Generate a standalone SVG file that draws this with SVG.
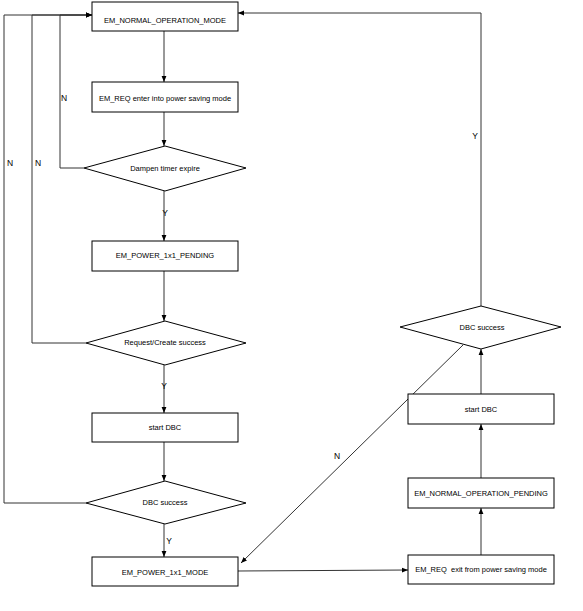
<svg xmlns="http://www.w3.org/2000/svg" width="583" height="611" viewBox="0 0 583 611">
<style>
.box{fill:#fff;stroke:#000;stroke-width:1}
.t{font-family:"Liberation Sans",Arial,sans-serif;font-size:7.5px;fill:#000;text-anchor:middle}
.lbl{font-family:"Liberation Sans",Arial,sans-serif;font-size:8.5px;fill:#000;text-anchor:middle}
.c{fill:none;stroke:#333;stroke-width:1}
</style>
<defs>
<marker id="ah" viewBox="0 0 10 10" refX="10" refY="5" markerWidth="6" markerHeight="6" markerUnits="userSpaceOnUse" orient="auto">
<path d="M0,1 L10,5 L0,9 z" fill="#000"/>
</marker>
</defs>
<rect width="583" height="611" fill="#fff"/>
<g id="connectors">
<path class="c" d="M164,31 V82" marker-end="url(#ah)"/>
<path class="c" d="M164,112 V146" marker-end="url(#ah)"/>
<path class="c" d="M164,191 V241" marker-end="url(#ah)"/>
<path class="c" d="M84,168 H60 V15 H92" marker-end="url(#ah)"/>
<path class="c" d="M164,271 V321" marker-end="url(#ah)"/>
<path class="c" d="M86,343 H32 V15 H92" marker-end="url(#ah)"/>
<path class="c" d="M164,365 V413" marker-end="url(#ah)"/>
<path class="c" d="M164,442 V481" marker-end="url(#ah)"/>
<path class="c" d="M86,503 H4 V15 H92" marker-end="url(#ah)"/>
<path class="c" d="M164,524 V557" marker-end="url(#ah)"/>
<path class="c" d="M238,571 L408,570" marker-end="url(#ah)"/>
<path class="c" d="M481,555 V508" marker-end="url(#ah)"/>
<path class="c" d="M481,478 V424" marker-end="url(#ah)"/>
<path class="c" d="M481,394 V349" marker-end="url(#ah)"/>
<path class="c" d="M481,306 V13 H238" marker-end="url(#ah)"/>
<path class="c" d="M463,345 L241,563" marker-end="url(#ah)"/>
<text class="lbl" x="64" y="101">N</text>
<text class="lbl" x="38" y="166">N</text>
<text class="lbl" x="10" y="166">N</text>
<text class="lbl" x="165" y="216">Y</text>
<text class="lbl" x="164" y="389">Y</text>
<text class="lbl" x="169" y="544">Y</text>
<text class="lbl" x="475" y="139">Y</text>
<text class="lbl" x="337" y="459">N</text>
</g>
<g id="n1"><rect class="box" x="92" y="2" width="146" height="29"/><text class="t" x="165" y="22.5">EM_NORMAL_OPERATION_MODE</text></g>
<g id="n2"><rect class="box" x="92" y="82" width="146" height="30"/><text class="t" x="165" y="100.5">EM_REQ enter into power saving mode</text></g>
<g id="d1"><polygon class="box" points="165,146 246,168 165,191 84,168"/><text class="t" x="165" y="170.7">Dampen timer expire</text></g>
<g id="n3"><rect class="box" x="92" y="241" width="146" height="30"/><text class="t" x="165" y="258.2">EM_POWER_1x1_PENDING</text></g>
<g id="d2"><polygon class="box" points="165,321 246,343 165,365 86,343"/><text class="t" x="165" y="345.2">Request/Create success</text></g>
<g id="n4"><rect class="box" x="92" y="413" width="146" height="29"/><text class="t" x="165" y="430">start DBC</text></g>
<g id="d3"><polygon class="box" points="165,481 246,503 165,524 86,503"/><text class="t" x="165" y="505">DBC success</text></g>
<g id="n5"><rect class="box" x="92" y="557" width="146" height="29"/><text class="t" x="165" y="574.7">EM_POWER_1x1_MODE</text></g>
<g id="n6"><rect class="box" x="408" y="555" width="146" height="29"/><text class="t" x="481" y="571.7" style="white-space:pre">EM_REQ  exit from power saving mode</text></g>
<g id="n7"><rect class="box" x="408" y="478" width="146" height="30"/><text class="t" x="481" y="495.7">EM_NORMAL_OPERATION_PENDING</text></g>
<g id="n8"><rect class="box" x="408" y="394" width="146" height="30"/><text class="t" x="481" y="411.7">start DBC</text></g>
<g id="d4"><polygon class="box" points="481,306 561,327 481,349 400,327"/><text class="t" x="482" y="329.7">DBC success</text></g>
</svg>
